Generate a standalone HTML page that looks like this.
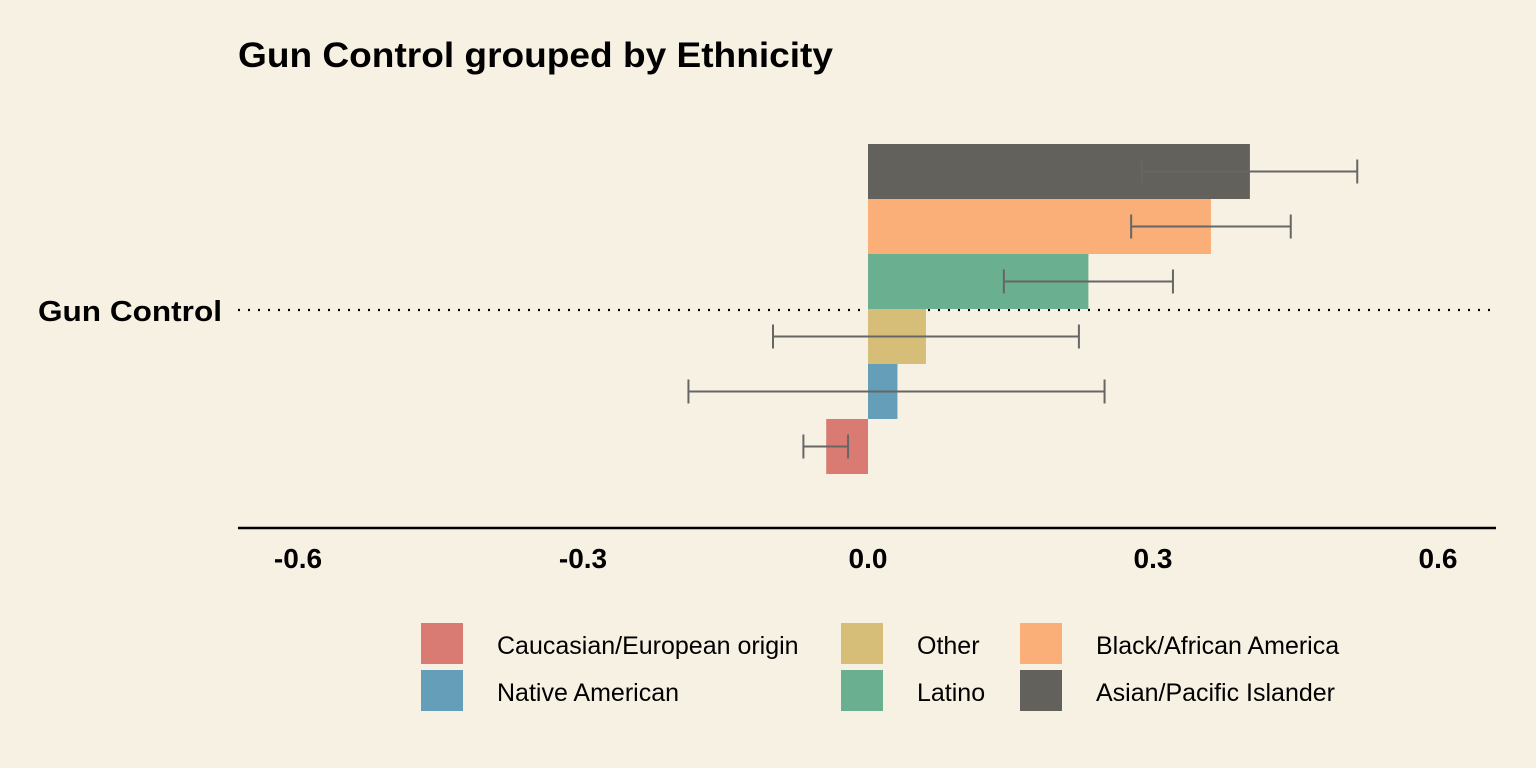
<!DOCTYPE html>
<html><head><meta charset="utf-8"><style>
body{margin:0;background:#f7f1e4;}
svg{display:block;font-family:"Liberation Sans",Arial,sans-serif;}
</style></head><body>
<svg id="chart" width="1536" height="768">
<rect width="1536" height="768" fill="#f7f1e4"/>
<text x="238" y="67" font-size="35" font-weight="bold" fill="#000" textLength="595" lengthAdjust="spacingAndGlyphs">Gun Control grouped by Ethnicity</text>
<text x="38" y="321" font-size="29" font-weight="bold" textLength="184" lengthAdjust="spacingAndGlyphs">Gun Control</text>
<line x1="238" y1="310" x2="1496" y2="310" stroke="#000" stroke-width="2.2" stroke-dasharray="2,8"/>
<g id="bars"></g><g id="errs"></g>
<line x1="238" y1="528" x2="1496" y2="528" stroke="#000" stroke-width="2.5"/>
<g id="ticks"></g><g id="legend"></g>
</svg>
<script>
const categories=["Asian/Pacific Islander","Black/African America","Latino","Other","Native American","Caucasian/European origin"];
const values=[0.402,0.361,0.232,0.061,0.031,-0.044];
const lower=[0.288,0.277,0.143,-0.100,-0.189,-0.068];
const upper=[0.515,0.445,0.321,0.222,0.249,-0.021];
const colors=["#62615b","#f9af77","#6aaf8f","#d6be78","#649eb8","#d97b72"];
const ticks=[-0.6,-0.3,0.0,0.3,0.6];
const tickLabels=["-0.6","-0.3","0.0","0.3","0.6"];
const legendOrder=["Caucasian/European origin","Native American","Other","Latino","Black/African America","Asian/Pacific Islander"];
const NS="http://www.w3.org/2000/svg";
const x=v=>868+v*950;
const y=i=>144+i*55;
const bh=55;
function mk(tag,attrs,parent){const e=document.createElementNS(NS,tag);for(const k in attrs)e.setAttribute(k,attrs[k]);parent.appendChild(e);return e;}
const bars=document.getElementById('bars'),errs=document.getElementById('errs');
categories.forEach((c,i)=>{
  const r=mk('rect',{x:Math.min(x(0),x(values[i])),y:y(i),width:Math.abs(x(values[i])-x(0)),height:bh,fill:colors[i]},bars);
  
  
  const cy=y(i)+bh/2;
  const g=mk('g',{stroke:'#666',"stroke-width":2},errs);
  
  
  mk('line',{x1:x(lower[i]),x2:x(upper[i]),y1:cy,y2:cy},g);
  mk('line',{x1:x(lower[i]),x2:x(lower[i]),y1:cy-12,y2:cy+12},g);
  mk('line',{x1:x(upper[i]),x2:x(upper[i]),y1:cy-12,y2:cy+12},g);
});
const tg=document.getElementById('ticks');
ticks.forEach((t,i)=>{
  const e=mk('text',{x:x(t),y:568,"font-size":28,"font-weight":"bold","text-anchor":"middle"},tg);
  e.textContent=tickLabels[i];
  
  
});
const lg=document.getElementById('legend');
const colX=[421,841,1020],rowY=[623,670];
legendOrder.forEach((c,k)=>{
  const col=Math.floor(k/2),row=k%2;
  const g=mk('g',{},lg);
  
  
  mk('rect',{x:colX[col],y:rowY[row],width:42,height:41,fill:colors[categories.indexOf(c)]},g);
  const t=mk('text',{x:colX[col]+76,y:rowY[row]+31,"font-size":25},g);
  t.textContent=c;
});
</script>
</body></html>
